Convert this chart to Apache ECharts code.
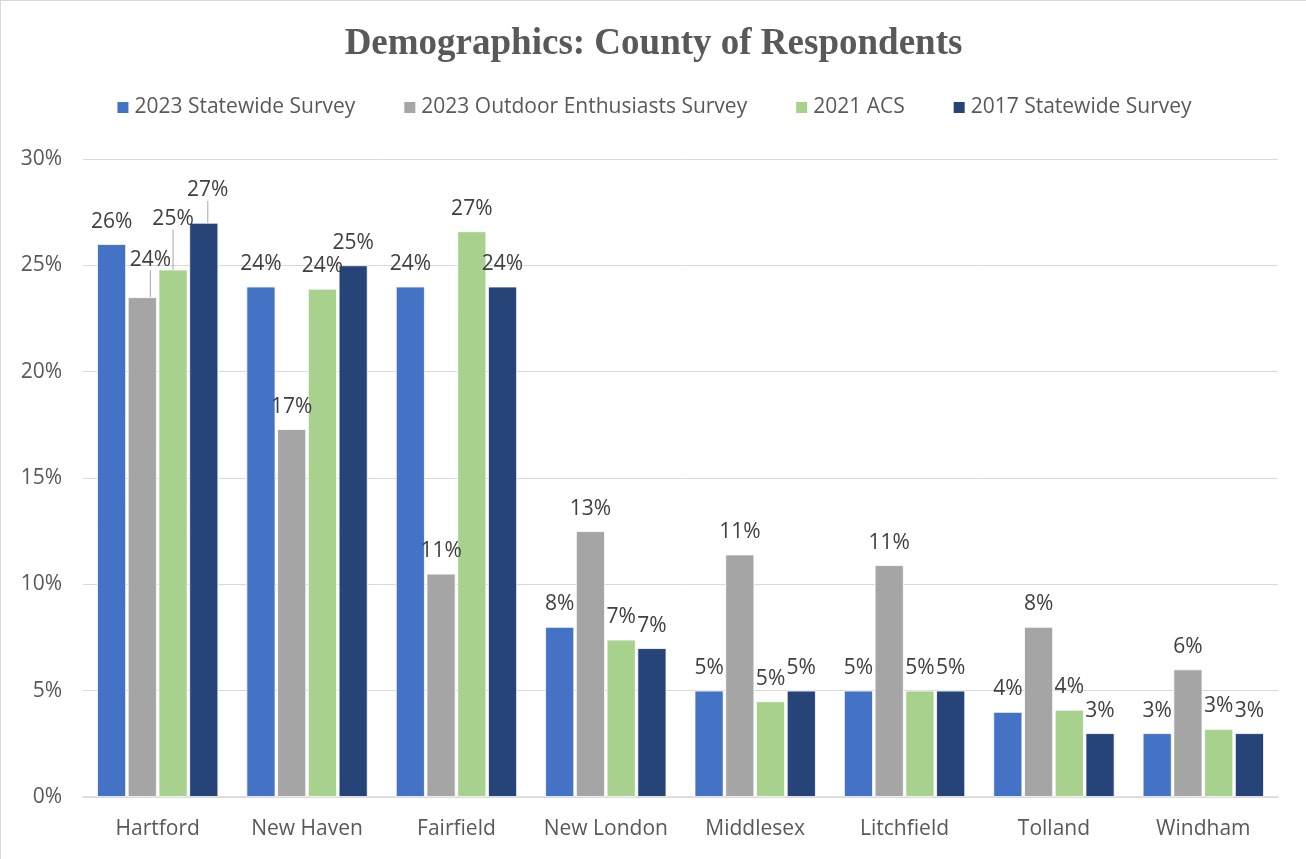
<!DOCTYPE html>
<html>
<head>
<meta charset="utf-8">
<script src="https://cdn.jsdelivr.net/npm/echarts@6/dist/echarts.min.js"></script>
<style>
  html, body { margin: 0; padding: 0; background: #fff; }
  #chart { width: 1306px; height: 859px; box-sizing: border-box; border-top: 1px solid #d9d9d9; border-left: 1px solid #d9d9d9; }
</style>
</head>
<body>
<div id="chart"></div>
<script>
// County shares of respondents (percent)
const counties = ['Hartford', 'New Haven', 'Fairfield', 'New London', 'Middlesex', 'Litchfield', 'Tolland', 'Windham'];
const seriesNames = ['2023 Statewide Survey', '2023 Outdoor Enthusiasts Survey', '2021 ACS', '2017 Statewide Survey'];
const statewide2023 = [26, 24, 24, 8, 5, 5, 4, 3];
const outdoor2023 = [23.5, 17.3, 10.5, 12.5, 11.4, 10.9, 8, 6];
const acs2021 = [24.8, 23.9, 26.6, 7.4, 4.5, 5, 4.1, 3.2];
const statewide2017 = [27, 25, 24, 7, 5, 5, 3, 3];
const yTicks = [0, 5, 10, 15, 20, 25, 30];

const colors = ['#4472C4', '#A5A5A5', '#A9D18E', '#264478'];
const values = [statewide2023, outdoor2023, acs2021, statewide2017];

// Hand-placed labels on the crowded Hartford group, with leader lines
const moved = {
  1: { dx: 8, dy: -15 },
  2: { dx: 0, dy: -28 },
  3: { dx: 4, dy: -10 }
};

const FONT = 'Open Sans';
const chart = echarts.init(document.getElementById('chart'));
chart.setOption({
  animation: false,
  title: {
    text: 'Demographics: County of Respondents',
    left: 'center',
    top: 20,
    textStyle: { fontFamily: 'Liberation Serif', fontWeight: 'bold', fontSize: 37, color: '#595959' }
  },
  legend: {
    top: 91,
    left: 'center',
    itemWidth: 13,
    itemHeight: 13,
    itemGap: 47,
    icon: 'rect',
    textStyle: { fontFamily: FONT, fontSize: 21, color: '#595959' },
    data: seriesNames
  },
  grid: { left: 82, right: 28, top: 158, bottom: 62, containLabel: false },
  xAxis: {
    type: 'category',
    data: counties,
    axisTick: { show: false },
    axisLine: { lineStyle: { color: '#d9d9d9', width: 1.5 } },
    axisLabel: { interval: 0, fontFamily: FONT, fontSize: 21, color: '#595959', margin: 22 }
  },
  yAxis: {
    type: 'value',
    min: yTicks[0],
    max: yTicks[yTicks.length - 1],
    interval: 5,
    axisLine: { show: false },
    axisTick: { show: false },
    splitLine: { lineStyle: { color: '#d9d9d9', width: 1 } },
    axisLabel: { fontFamily: FONT, fontSize: 21, color: '#595959', margin: 21, formatter: v => v + '%' }
  },
  series: seriesNames.map((name, i) => ({
    name,
    type: 'bar',
    data: values[i].map((v, k) => (k === 0 && moved[i])
      ? { value: v, labelLine: { show: true, lineStyle: { color: '#a6a6a6', width: 1 } } }
      : v),
    barWidth: 29,
    barGap: '6%',
    itemStyle: { color: colors[i], borderColor: '#ffffff', borderWidth: 0.8 },
    label: {
      show: true,
      position: 'top',
      distance: 12,
      fontFamily: FONT,
      fontSize: 21,
      color: '#404040',
      formatter: p => Math.round(p.value) + '%'
    },
    labelLine: { show: false },
    labelLayout: p => (p.dataIndex === 0 && moved[i]) ? { dx: moved[i].dx, dy: moved[i].dy } : {}
  }))
});
</script>
</body>
</html>
